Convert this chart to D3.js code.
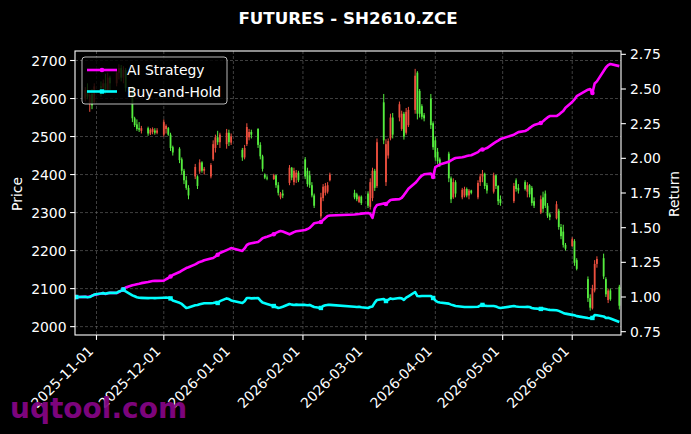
<!DOCTYPE html>
<html><head><meta charset="utf-8">
<script src="https://cdn.jsdelivr.net/npm/d3@7"></script>
<style>body{margin:0;background:#000;}svg{display:block;}text{font-family:"DejaVu Sans",sans-serif;}</style>
</head><body><svg id="c" width="691" height="434"></svg>
<script>
const dates=["2025-10-23","2025-10-24","2025-10-27","2025-10-28","2025-10-29","2025-10-30","2025-10-31",
"2025-11-03","2025-11-04","2025-11-05","2025-11-06","2025-11-07","2025-11-10","2025-11-11","2025-11-12","2025-11-13","2025-11-14",
"2025-11-17","2025-11-18","2025-11-19","2025-11-20","2025-11-21","2025-11-24","2025-11-25","2025-11-26","2025-11-27","2025-11-28",
"2025-12-01","2025-12-02","2025-12-03","2025-12-04","2025-12-05","2025-12-08","2025-12-09","2025-12-10","2025-12-11","2025-12-12",
"2025-12-15","2025-12-16","2025-12-17","2025-12-18","2025-12-19","2025-12-22","2025-12-23","2025-12-24","2025-12-25","2025-12-26",
"2025-12-29","2025-12-30","2025-12-31",
"2026-01-05","2026-01-06","2026-01-07","2026-01-08","2026-01-09","2026-01-12","2026-01-13","2026-01-14","2026-01-15","2026-01-16",
"2026-01-19","2026-01-20","2026-01-21","2026-01-22","2026-01-23","2026-01-26","2026-01-27","2026-01-28","2026-01-29","2026-01-30",
"2026-02-02","2026-02-03","2026-02-04","2026-02-05","2026-02-06","2026-02-09","2026-02-10","2026-02-11","2026-02-12","2026-02-13",
"2026-02-24","2026-02-25","2026-02-26","2026-02-27",
"2026-03-02","2026-03-03","2026-03-04","2026-03-05","2026-03-06","2026-03-09","2026-03-10","2026-03-11","2026-03-12","2026-03-13",
"2026-03-16","2026-03-17","2026-03-18","2026-03-19","2026-03-20","2026-03-23","2026-03-24","2026-03-25","2026-03-26","2026-03-27",
"2026-03-30","2026-03-31",
"2026-04-01","2026-04-02","2026-04-03","2026-04-07","2026-04-08","2026-04-09","2026-04-10","2026-04-13","2026-04-14","2026-04-15",
"2026-04-16","2026-04-17","2026-04-20","2026-04-21","2026-04-22","2026-04-23","2026-04-24","2026-04-27","2026-04-28","2026-04-29","2026-04-30",
"2026-05-06","2026-05-07","2026-05-08","2026-05-11","2026-05-12","2026-05-13","2026-05-14","2026-05-15","2026-05-18","2026-05-19",
"2026-05-20","2026-05-21","2026-05-22","2026-05-25","2026-05-26","2026-05-27","2026-05-28","2026-05-29",
"2026-06-01","2026-06-02","2026-06-03","2026-06-08","2026-06-09","2026-06-10","2026-06-11","2026-06-12",
"2026-06-15","2026-06-16","2026-06-17","2026-06-18","2026-06-22"];

const openP=[null,null,2600,2622,2585,2612,2590,2632,2628,2640,2620,2655,2640,2668,2680,2655,2675,
2625,2548,2532,2522,2515,2522,2508,2512,2516,2510,
2505,2520,2522,2505,2472,2468,2440,2410,2385,2365,2395,2395,2408,2432,2410,2395,2440,2470,2498,2485,2480,2510,2484,
2465,2445,2480,2498,2512,2520,2478,2448,2400,2392,2388,2398,2372,2340,2350,2378,2418,2380,2392,2405,
2440,2410,2398,2372,2345,2290,2338,2352,2355,2385,2352,2348,2328,2342,
2350,2315,2338,2410,2370,2590,2380,2450,2495,2550,2550,2520,2560,2510,2530,2570,2668,2620,2580,2556,2600,2535,
2490,2460,2440,2455,2390,2340,2380,2340,2345,2362,2345,2358,2340,2380,2395,2402,2372,2355,2398,2370,2335,
2330,2385,2365,2380,2355,2372,2365,2330,2300,2340,2350,2318,2295,2285,2305,2262,2250,2215,
2212,2225,2175,2125,2075,2048,2095,2165,2180,2125,2070,2095,2105];
const highP=[null,null,2630,2640,2618,2625,2640,2645,2650,2665,2668,2660,2675,2690,2688,2685,2680,
2632,2552,2545,2538,2528,2526,2522,2524,2522,2522,
2545,2532,2525,2510,2476,2472,2445,2415,2396,2372,2428,2398,2440,2435,2420,2430,2490,2505,2515,2510,2520,2518,2508,
2470,2478,2535,2520,2518,2522,2485,2452,2403,2398,2402,2400,2380,2354,2360,2425,2420,2418,2412,2410,
2446,2418,2410,2380,2350,2352,2375,2378,2380,2405,2360,2352,2345,2345,
2356,2390,2418,2415,2495,2612,2493,2495,2560,2562,2592,2568,2565,2575,2578,2678,2672,2625,2585,2562,2612,2540,
2500,2470,2445,2460,2395,2390,2385,2365,2368,2366,2362,2360,2385,2402,2412,2405,2378,2405,2400,2372,2345,
2378,2390,2375,2385,2380,2375,2370,2340,2345,2355,2358,2325,2300,2330,2310,2270,2268,2220,
2235,2230,2180,2132,2085,2110,2175,2185,2192,2130,2100,2100,2110];
const lowP=[null,null,2592,2598,2565,2572,2588,2605,2615,2612,2615,2622,2632,2650,2645,2640,2618,
2538,2525,2515,2512,2508,2502,2504,2506,2505,2506,
2500,2508,2502,2462,2450,2430,2400,2375,2360,2335,2388,2362,2402,2405,2400,2390,2436,2458,2478,2470,2468,2475,2478,
2436,2440,2475,2490,2495,2470,2440,2408,2388,2385,2386,2365,2345,2335,2338,2372,2385,2372,2378,2380,
2388,2368,2365,2340,2312,2284,2330,2345,2350,2382,2335,2330,2325,2320,
2312,2308,2330,2357,2365,2480,2370,2442,2490,2495,2540,2515,2492,2505,2525,2560,2545,2550,2545,2540,2520,2465,
2436,2428,2420,2380,2325,2336,2340,2335,2340,2340,2335,2348,2335,2370,2380,2362,2350,2350,2362,2320,2318,
2325,2355,2350,2358,2340,2340,2318,2312,2296,2300,2312,2286,2280,2282,2255,2230,2208,2200,
2210,2160,2148,2065,2042,2045,2090,2155,2125,2078,2062,2068,2045];
const closeP=[null,null,2622,2605,2610,2582,2632,2628,2640,2620,2655,2640,2668,2680,2655,2675,2628,
2548,2530,2520,2518,2522,2508,2518,2520,2510,2516,
2538,2528,2505,2470,2458,2438,2410,2385,2365,2345,2420,2370,2432,2410,2415,2425,2480,2498,2485,2505,2510,2485,2500,
2445,2470,2525,2512,2505,2478,2448,2415,2392,2390,2398,2372,2352,2350,2345,2418,2392,2410,2405,2385,
2395,2375,2372,2345,2318,2340,2368,2370,2372,2400,2340,2335,2342,2325,
2318,2380,2410,2365,2485,2490,2480,2488,2550,2505,2585,2560,2500,2565,2570,2660,2560,2560,2552,2548,2530,2472,
2445,2435,2428,2390,2335,2380,2350,2360,2362,2345,2358,2352,2378,2395,2402,2370,2358,2398,2370,2330,2325,
2370,2362,2358,2362,2372,2348,2325,2318,2335,2310,2318,2292,2288,2322,2262,2238,2215,2205,
2230,2168,2152,2075,2050,2100,2165,2178,2132,2085,2095,2072,2055];

const aiStrategy=[1.000,1.000,1.002,1.000,1.003,1.010,1.015,1.025,1.028,1.022,1.027,1.030,1.029,1.035,1.045,1.055,1.068,
1.085,1.088,1.092,1.095,1.100,1.108,1.112,1.115,1.116,1.116,
1.118,1.128,1.137,1.148,1.159,1.180,1.190,1.200,1.209,1.215,1.235,1.245,1.253,1.258,1.265,1.278,1.281,1.292,1.305,1.317,1.338,1.345,1.353,
1.332,1.350,1.375,1.384,1.388,1.397,1.410,1.424,1.430,1.434,1.452,1.462,1.470,1.476,1.472,1.452,1.460,1.468,1.474,1.476,
1.483,1.490,1.498,1.515,1.532,1.541,1.555,1.570,1.584,1.588,1.595,1.597,1.599,1.601,
1.606,1.600,1.570,1.640,1.663,1.675,1.671,1.685,1.700,1.702,1.706,1.715,1.735,1.758,1.780,1.822,1.840,1.860,1.876,1.885,1.890,1.865,
1.937,1.945,1.955,1.975,1.985,1.995,2.002,2.008,2.012,2.016,2.020,2.022,2.045,2.060,2.064,2.068,2.074,2.108,2.118,2.128,2.139,
2.170,2.180,2.189,2.197,2.205,2.218,2.230,2.240,2.255,2.268,2.282,2.295,2.305,2.305,2.315,2.328,2.341,2.365,
2.406,2.425,2.448,2.495,2.500,2.471,2.540,2.555,2.630,2.655,2.672,2.680,2.665];
const buyHold=[1.000,1.000,1.002,0.998,1.000,1.008,1.018,1.025,1.028,1.024,1.028,1.030,1.030,1.040,1.045,1.054,1.040,
1.012,1.005,0.998,0.995,0.994,0.992,0.993,0.993,0.992,0.993,
0.995,0.996,0.995,0.990,0.975,0.958,0.950,0.935,0.921,0.925,0.940,0.943,0.948,0.952,0.955,0.955,0.957,0.960,0.957,0.970,0.990,0.985,0.975,
0.957,0.970,0.993,0.993,0.990,0.993,0.975,0.960,0.955,0.950,0.935,0.928,0.921,0.925,0.930,0.950,0.945,0.942,0.945,0.943,
0.943,0.940,0.943,0.935,0.928,0.921,0.935,0.940,0.943,0.943,0.930,0.928,0.930,0.926,
0.921,0.928,0.932,0.960,0.979,0.986,0.971,0.980,0.990,0.986,0.993,0.990,0.979,0.995,1.005,1.036,1.007,1.005,1.007,1.007,1.007,0.993,
0.975,0.964,0.960,0.952,0.945,0.940,0.935,0.930,0.928,0.928,0.928,0.928,0.930,0.938,0.943,0.938,0.935,0.935,0.932,0.925,0.921,
0.935,0.932,0.930,0.928,0.930,0.928,0.921,0.918,0.914,0.916,0.914,0.910,0.907,0.905,0.900,0.893,0.885,0.880,
0.871,0.868,0.862,0.849,0.847,0.849,0.870,0.868,0.860,0.849,0.850,0.845,0.820];

const priceTicks=[2000,2100,2200,2300,2400,2500,2600,2700];
const returnTicks=[0.75,1.00,1.25,1.50,1.75,2.00,2.25,2.50,2.75];
const monthTicks=["2025-11-01","2025-12-01","2026-01-01","2026-02-01","2026-03-01","2026-04-01","2026-05-01","2026-06-01"];
const seriesNames=["AI Strategy","Buy-and-Hold"];

const svg=d3.select("#c");
const L=75,R=621,T=51,B=335;
const parse=d3.utcParse("%Y-%m-%d");
const D=dates.map(parse);
const x=d3.scaleUtc().domain([new Date(Date.UTC(2025,9,22,10,9)),new Date(Date.UTC(2026,5,22,17,41))]).range([L,R]);
const yP=d3.scaleLinear().domain([1978,2725]).range([B,T]);
const yR=d3.scaleLinear().domain([0.726,2.774]).range([B,T]);

svg.append("rect").attr("width",691).attr("height",434).attr("fill","#000");

// grid
const g=svg.append("g");
g.selectAll(".gx").data(monthTicks).join("line").attr("x1",d=>x(parse(d))).attr("x2",d=>x(parse(d)))
 .attr("y1",T).attr("y2",B).attr("stroke","#6a6a6a").attr("stroke-width",0.6).attr("stroke-dasharray","3,2");
g.selectAll(".gy").data(priceTicks).join("line").attr("y1",d=>yP(d)).attr("y2",d=>yP(d))
 .attr("x1",L).attr("x2",R).attr("stroke","#6a6a6a").attr("stroke-width",0.6).attr("stroke-dasharray","3,2");

// candles
svg.append("clipPath").attr("id","pc").append("rect").attr("x",L).attr("y",T).attr("width",R-L).attr("height",B-T);
const cg=svg.append("g").attr("clip-path","url(#pc)");
const idx=d3.range(dates.length).filter(i=>openP[i]!=null);
const up="#ec4f3e", dn="#55ec3e";
const dayW=x(new Date(Date.UTC(2025,10,2)))-x(new Date(Date.UTC(2025,10,1)));
cg.selectAll(".wk").data(idx).join("line")
 .attr("x1",i=>x(D[i])).attr("x2",i=>x(D[i]))
 .attr("y1",i=>yP(highP[i])).attr("y2",i=>yP(lowP[i]))
 .attr("stroke",i=>closeP[i]>=openP[i]?up:dn).attr("stroke-width",1);
cg.selectAll(".bd").data(idx).join("rect")
 .attr("x",i=>x(D[i])-dayW*0.4).attr("width",dayW*0.8)
 .attr("y",i=>yP(Math.max(openP[i],closeP[i])))
 .attr("height",i=>Math.max(1,Math.abs(yP(openP[i])-yP(closeP[i]))))
 .attr("fill",i=>closeP[i]>=openP[i]?up:dn);

// lines
const lineGen=vals=>d3.line().x((d,i)=>x(D[i])).y(d=>yR(d))(vals);
const cols=["#ff00ff","#00ffff"];
[aiStrategy,buyHold].forEach((vals,k)=>{
  cg.append("path").attr("d",lineGen(vals)).attr("fill","none").attr("stroke",cols[k])
    .attr("stroke-width",2.6).attr("stroke-linejoin","round");
});
const mIdx=d3.range(0,dates.length,15);
cg.selectAll(".mk1").data(mIdx).join("circle").attr("cx",i=>x(D[i])).attr("cy",i=>yR(aiStrategy[i])).attr("r",2.3).attr("fill",cols[0]);
cg.selectAll(".mk2").data(mIdx).join("rect").attr("x",i=>x(D[i])-2.2).attr("y",i=>yR(buyHold[i])-2.2).attr("width",4.4).attr("height",4.4).attr("fill",cols[1]);

// spines
svg.append("rect").attr("x",L).attr("y",T).attr("width",R-L).attr("height",B-T).attr("fill","none").attr("stroke","#fff").attr("stroke-width",1.1);

const fs=13.9;
// x ticks
const xt=svg.append("g");
monthTicks.forEach(d=>{
  const px=x(parse(d));
  xt.append("line").attr("x1",px).attr("x2",px).attr("y1",B).attr("y2",B+4.9).attr("stroke","#fff").attr("stroke-width",1.1);
  xt.append("text").attr("transform",`translate(${px-2.3},${352}) rotate(-45)`).attr("text-anchor","end")
    .attr("fill","#fff").attr("font-size",fs).text(d);
});
// left y ticks
priceTicks.forEach(v=>{
  const py=yP(v);
  svg.append("line").attr("x1",L-4.9).attr("x2",L).attr("y1",py).attr("y2",py).attr("stroke","#fff").attr("stroke-width",1.1);
  svg.append("text").attr("x",L-8.5).attr("y",py).attr("dy","0.36em").attr("text-anchor","end").attr("fill","#fff").attr("font-size",fs).text(v);
});
// right y ticks
returnTicks.forEach(v=>{
  const py=yR(v);
  svg.append("line").attr("x1",R).attr("x2",R+4.9).attr("y1",py).attr("y2",py).attr("stroke","#fff").attr("stroke-width",1.1);
  svg.append("text").attr("x",R+9).attr("y",py).attr("dy","0.36em").attr("fill","#fff").attr("font-size",fs).text(v.toFixed(2));
});
svg.append("text").attr("transform","translate(22,194) rotate(-90)").attr("text-anchor","middle").attr("fill","#fff").attr("font-size",fs).text("Price");
svg.append("text").attr("transform","translate(679,194) rotate(-90)").attr("text-anchor","middle").attr("fill","#fff").attr("font-size",fs).text("Return");

// title
svg.append("text").attr("x",(L+R)/2).attr("y",24).attr("text-anchor","middle").attr("fill","#fff")
  .attr("font-size",16.7).attr("font-weight","bold").text("FUTURES - SH2610.ZCE");

// legend
const lg=svg.append("g");
lg.append("rect").attr("x",82).attr("y",57).attr("width",145).attr("height",47).attr("rx",3)
  .attr("fill","#000").attr("fill-opacity",0.8).attr("stroke","#cccccc").attr("stroke-opacity",0.9).attr("stroke-width",1);
seriesNames.forEach((n,k)=>{
  const cy=70+k*21.5;
  lg.append("line").attr("x1",87).attr("x2",117).attr("y1",cy).attr("y2",cy).attr("stroke",cols[k]).attr("stroke-width",2.6);
  if(k===0) lg.append("circle").attr("cx",102).attr("cy",cy).attr("r",2.3).attr("fill",cols[k]);
  else lg.append("rect").attr("x",99.8).attr("y",cy-2.2).attr("width",4.4).attr("height",4.4).attr("fill",cols[k]);
  lg.append("text").attr("x",127).attr("y",cy).attr("dy","0.36em").attr("fill","#fff").attr("font-size",fs).text(n);
});

// watermark
svg.append("text").attr("x",10).attr("y",418).attr("fill","#850585").attr("fill-opacity",0.95)
  .attr("font-size",28).attr("font-weight","bold").text("uqtool.com");
</script></body></html>
